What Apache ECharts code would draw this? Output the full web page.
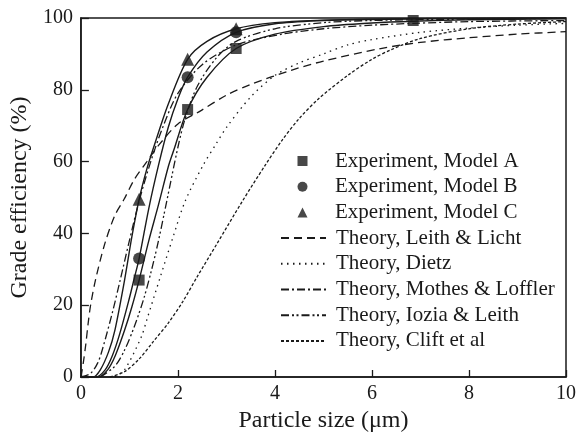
<!DOCTYPE html>
<html>
<head>
<meta charset="utf-8">
<script src="https://cdn.jsdelivr.net/npm/echarts@6/dist/echarts.min.js"></script>
<style>
html,body{margin:0;padding:0;background:#fff;}
#chart{width:579px;height:438px;}
</style>
</head>
<body>
<div id="chart"></div>
<script>
// ---- Data ----
const expX = [1.2, 2.2, 3.2];
const expAX = [1.2, 2.2, 3.2, 6.85];
const expA = [27, 74.5, 91.5, 99.3];
const expB = [33, 83.5, 96];
const expC = [49.5, 88.5, 97];

// fitted solid curves through the experimental points
const fitAX = [0, 0.35, 0.55, 0.71, 0.9, 1.05, 1.2, 1.4, 1.6, 1.8, 1.91, 2.2, 2.6, 3.2, 4, 5, 6, 6.85, 8, 10];
const fitAY = [0, 0, 2, 6, 13, 19.5, 27, 38, 48, 58.5, 63, 74.5, 83.5, 91.5, 95.5, 97.6, 98.6, 99.1, 99.5, 99.8];
const fitBX = [0, 0.3, 0.5, 0.65, 0.8, 1.0, 1.1, 1.2, 1.4, 1.6, 1.8, 2.0, 2.2, 2.6, 3.2, 4, 5, 6, 8, 10];
const fitBY = [0, 0, 2, 6, 12, 22, 27.5, 33, 47, 59, 69.5, 77.5, 83.5, 90.5, 96, 98.4, 99.3, 99.6, 99.9, 100];
const fitCX = [0, 0.25, 0.4, 0.57, 0.7, 0.9, 1.05, 1.2, 1.35, 1.5, 1.8, 2.2, 2.6, 3.2, 4, 5, 6, 8, 10];
const fitCY = [0, 0, 2, 7, 13, 27, 39, 49.5, 57.5, 64, 76, 88.5, 93.5, 97, 98.7, 99.4, 99.7, 99.9, 100];

// theoretical curves
const leithX = [0, 0.05, 0.1, 0.15, 0.2, 0.3, 0.49, 0.7, 0.89, 1.1, 1.36, 1.6, 2.0, 2.45, 3.0, 3.5, 4.35, 5, 6.18, 7, 8, 9, 10];
const leithY = [0, 4, 9, 15, 20, 27, 37, 45, 49.5, 55, 60, 64.5, 70.5, 74, 78.5, 81.5, 85.5, 88, 91.5, 93.2, 94.5, 95.5, 96.2];
const dietzX = [0.7, 0.9, 1.24, 1.36, 1.64, 1.9, 2.15, 2.52, 2.79, 3.0, 3.5, 4, 4.5, 5, 5.5, 6, 7, 8, 9, 10];
const dietzY = [0, 2, 11, 16, 28, 39, 49, 59, 65, 69.5, 78, 84, 87.5, 90, 92.5, 94, 96, 97.2, 98, 98.5];
const mothesX = [0, 0.2, 0.35, 0.45, 0.65, 0.81, 1.0, 1.2, 1.44, 1.7, 2.0, 2.5, 3.2, 4.15, 5, 6, 6.85, 8, 10];
const mothesY = [0, 1, 4, 8, 18, 27, 38, 49, 60, 70, 79, 87, 92.5, 95.5, 97, 98, 98.5, 99, 99.3];
const ioziaX = [0.4, 0.7, 0.9, 1.1, 1.3, 1.46, 1.6, 1.77, 2.0, 2.15, 2.4, 2.8, 3.2, 4, 5, 6, 8, 10];
const ioziaY = [0, 3, 7.5, 14, 22, 30, 38, 49, 64, 72, 81, 89, 93.5, 97, 98.7, 99.3, 99.7, 99.9];
const cliftX = [0.6, 0.9, 1.2, 1.5, 1.8, 2.1, 2.4, 2.8, 3.33, 3.8, 4.15, 4.5, 4.9, 5.5, 6.0, 6.4, 7, 8, 9, 10];
const cliftY = [0, 1.5, 5, 10, 15, 21, 28, 37, 49, 59, 66, 72, 77.5, 84, 88.5, 91.2, 94.3, 97, 98.3, 99];

const xTicks = [0, 2, 4, 6, 8, 10];
const yTicks = [0, 20, 40, 60, 80, 100];

const expNames = ['Experiment, Model A', 'Experiment, Model B', 'Experiment, Model C'];
const theoryNames = ['Theory, Leith & Licht', 'Theory, Dietz', 'Theory, Mothes & Loffler',
  'Theory, Iozia & Leith', 'Theory, Clift et al'];

function zip(xs, ys) { return xs.map((x, i) => [x, ys[i]]); }

const INK = '#1a1a1a';
const FONT = 'Liberation Serif';

function theory(name, xs, ys, dash) {
  return {
    name: name, type: 'line', data: zip(xs, ys), symbol: 'none', smooth: 0.3,
    lineStyle: { color: INK, width: 1.3, type: dash }, itemStyle: { color: 'rgba(0,0,0,0)' },
    z: 3, silent: true, animation: false
  };
}
function fit(xs, ys) {
  return {
    type: 'line', data: zip(xs, ys), symbol: 'none', smooth: 0.3,
    lineStyle: { color: INK, width: 1.4, type: 'solid' }, z: 3, silent: true, animation: false
  };
}
function pts(name, xs, ys, sym, size) {
  return {
    name: name, type: 'scatter', data: zip(xs, ys), symbol: sym, symbolSize: size,
    itemStyle: { color: INK }, z: 5, animation: false
  };
}

const ROW = 25.7;
const legendText = { fontFamily: FONT, fontSize: 21, color: INK, lineHeight: 22 };

const chart = echarts.init(document.getElementById('chart'), null, { renderer: 'canvas' });
chart.setOption({
  backgroundColor: '#fff',
  animation: false,
  grid: { left: 76, right: 11, top: 18, bottom: 61, show: true, borderColor: INK, borderWidth: 1.5, backgroundColor: 'transparent' },
  legend: [
    {
      data: expNames.map((n, i) => ({ name: n, icon: ['rect', 'circle', 'triangle'][i] })),
      orient: 'vertical', left: 297.5, top: 150, padding: 0,
      itemWidth: 10, itemHeight: 10, itemGap: ROW - 22,
      textStyle: Object.assign({ padding: [0, 0, 0, 22.5] }, legendText),
      inactiveColor: INK, selectedMode: false
    },
    {
      data: theoryNames.map(n => ({ name: n, itemStyle: { color: 'rgba(0,0,0,0)', borderWidth: 0 } })),
      orient: 'vertical', left: 280, top: 150 + 3 * ROW, padding: 0,
      itemWidth: 45, itemHeight: 10, itemGap: ROW - 22,
      textStyle: Object.assign({ padding: [0, 0, 0, 5] }, legendText),
      inactiveColor: INK, selectedMode: false
    }
  ],
  xAxis: {
    type: 'value', min: xTicks[0], max: xTicks[xTicks.length - 1], interval: 2,
    name: 'Particle size (μm)', nameLocation: 'middle', nameGap: 28,
    nameTextStyle: { fontFamily: FONT, fontSize: 24, color: INK },
    axisLine: { lineStyle: { color: INK, width: 1.5 } },
    axisTick: { inside: true, length: 7, lineStyle: { color: INK, width: 1.3 } },
    axisLabel: { fontFamily: FONT, fontSize: 20, color: INK, margin: 7 },
    splitLine: { show: false }
  },
  yAxis: {
    type: 'value', min: yTicks[0], max: yTicks[yTicks.length - 1], interval: 20,
    name: 'Grade efficiency (%)', nameLocation: 'middle', nameGap: 45,
    nameTextStyle: { fontFamily: FONT, fontSize: 24, color: INK },
    axisLine: { lineStyle: { color: INK, width: 1.5 } },
    axisTick: { inside: true, length: 8, lineStyle: { color: INK, width: 1.3 } },
    axisLabel: { fontFamily: FONT, fontSize: 20, color: INK, margin: 8 },
    splitLine: { show: false }
  },
  series: [
    fit(fitAX, fitAY), fit(fitBX, fitBY), fit(fitCX, fitCY),
    theory(theoryNames[0], leithX, leithY, [8, 5]),
    theory(theoryNames[1], dietzX, dietzY, [1.5, 4.5]),
    theory(theoryNames[2], mothesX, mothesY, [8, 3, 2, 3]),
    theory(theoryNames[3], ioziaX, ioziaY, [8, 3, 2, 2.5, 2, 3]),
    theory(theoryNames[4], cliftX, cliftY, [3, 2]),
    pts(expNames[0], expAX, expA, 'rect', 11),
    pts(expNames[1], expX, expB, 'circle', 12),
    pts(expNames[2], expX, expC, 'triangle', 13)
  ]
});
</script>
</body>
</html>
